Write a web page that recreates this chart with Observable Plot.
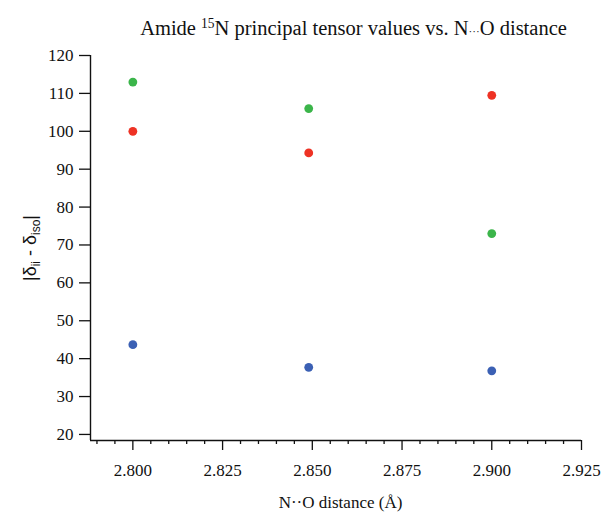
<!DOCTYPE html>
<html>
<head>
<meta charset="utf-8">
<script src="https://cdn.jsdelivr.net/npm/d3@7"></script>
<script src="https://cdn.jsdelivr.net/npm/@observablehq/plot@0.6"></script>
<style>
  html, body { margin: 0; padding: 0; background: white; overflow: hidden; }
  #wrap { position: relative; width: 601px; height: 514px; }
  #title { position: relative; height: 44px; }
  #title span.t {
    position: absolute; left: 353.5px; top: 16px; transform: translateX(-50%);
    white-space: nowrap; font-family: "Liberation Serif", serif; font-size: 20.5px; line-height: 24px; color: #111;
  }
  #title sup { font-size: 0.66em; vertical-align: baseline; position: relative; top: -0.5em; }
  #title .dots { font-size: 0.55em; }
  #chart svg text { font-family: "Liberation Serif", serif; font-variant: normal; }
  #chart svg text.ylab { font-family: "Liberation Sans", Arial, sans-serif; }
</style>
</head>
<body>
<div id="wrap">
  <div id="title"><span class="t">Amide <sup>15</sup>N principal tensor values vs. N<span class="dots">···</span>O distance</span></div>
  <div id="chart"></div>
</div>
<script>
// ---- data ----
const distances = [2.800, 2.849, 2.900];           // N...O distance (Å)
const seriesGreen = [113.0, 106.0, 73.0];          // |δ11 - δiso|
const seriesRed   = [100.0, 94.3, 109.5];          // |δ22 - δiso|
const seriesBlue  = [43.7, 37.7, 36.8];            // |δ33 - δiso|
const seriesNames = ["green", "red", "blue"];
const seriesColors = ["#3bb54a", "#ee3224", "#3b60b4"];

const xTicks = [2.800, 2.825, 2.850, 2.875, 2.900, 2.925];
const xMinorTicks = [2.790, 2.795, 2.805, 2.810, 2.815, 2.820, 2.830, 2.835, 2.840, 2.845,
                     2.855, 2.860, 2.865, 2.870, 2.880, 2.885, 2.890, 2.895, 2.905, 2.910, 2.915, 2.920];
const yTicks = [20, 30, 40, 50, 60, 70, 80, 90, 100, 110, 120];
const xDomain = [2.7882, 2.925];
const yDomain = [18.4, 120];
const xLabel = "N··O distance (Å)";

const allSeries = [seriesGreen, seriesRed, seriesBlue];
const dotMarks = allSeries.map((vals, i) =>
  Plot.dot(distances.map((d, j) => ({x: d, y: vals[j]})), {
    x: "x", y: "y", r: 4.4, fill: seriesColors[i], stroke: "none"
  })
);

const chart = Plot.plot({
  width: 601,
  height: 470,
  marginTop: 11,
  marginBottom: 74,
  marginLeft: 90,
  marginRight: 20,
  style: "font-family: 'Liberation Serif', serif; font-size: 17px; color: #111; background: white;",
  x: {domain: xDomain},
  y: {domain: yDomain},
  marks: [
    Plot.axisX({ticks: xMinorTicks, tickSize: 4, tickFormat: () => "", label: null, strokeWidth: 1.3}),
    Plot.axisX({ticks: xTicks, tickSize: 10, tickPadding: 13, tickFormat: d3.format(".3f"), label: null, strokeWidth: 1.3, fontSize: 17}),
    Plot.axisY({ticks: yTicks, tickSize: 11, tickPadding: 6, label: null, strokeWidth: 1.3, fontSize: 17}),
    Plot.ruleY([yDomain[0]], {strokeWidth: 1.4}),
    Plot.ruleX([xDomain[0]], {strokeWidth: 1.4}),
    ...dotMarks,
    Plot.text([xLabel], {text: d => d, frameAnchor: "bottom", lineAnchor: "bottom", dy: 67, dx: 4.5, fontSize: 17})
  ]
});
document.getElementById("chart").appendChild(chart);

const svg = d3.select(chart);
svg.selectAll("[font-variant]").attr("font-variant", null);

// y axis label with subscripts
const yl = svg.append("text")
  .attr("class", "ylab")
  .attr("transform", "translate(36,204) rotate(-90)")
  .attr("text-anchor", "middle")
  .attr("font-size", 18)
  .attr("fill", "#111");
yl.append("tspan").text("|δ");
yl.append("tspan").attr("font-size", 12).attr("dy", 4).text("ii");
yl.append("tspan").attr("dy", -4).text(" - δ");
yl.append("tspan").attr("font-size", 12).attr("dy", 4).text("iso");
yl.append("tspan").attr("dy", -4).text("|");
</script>
</body>
</html>
